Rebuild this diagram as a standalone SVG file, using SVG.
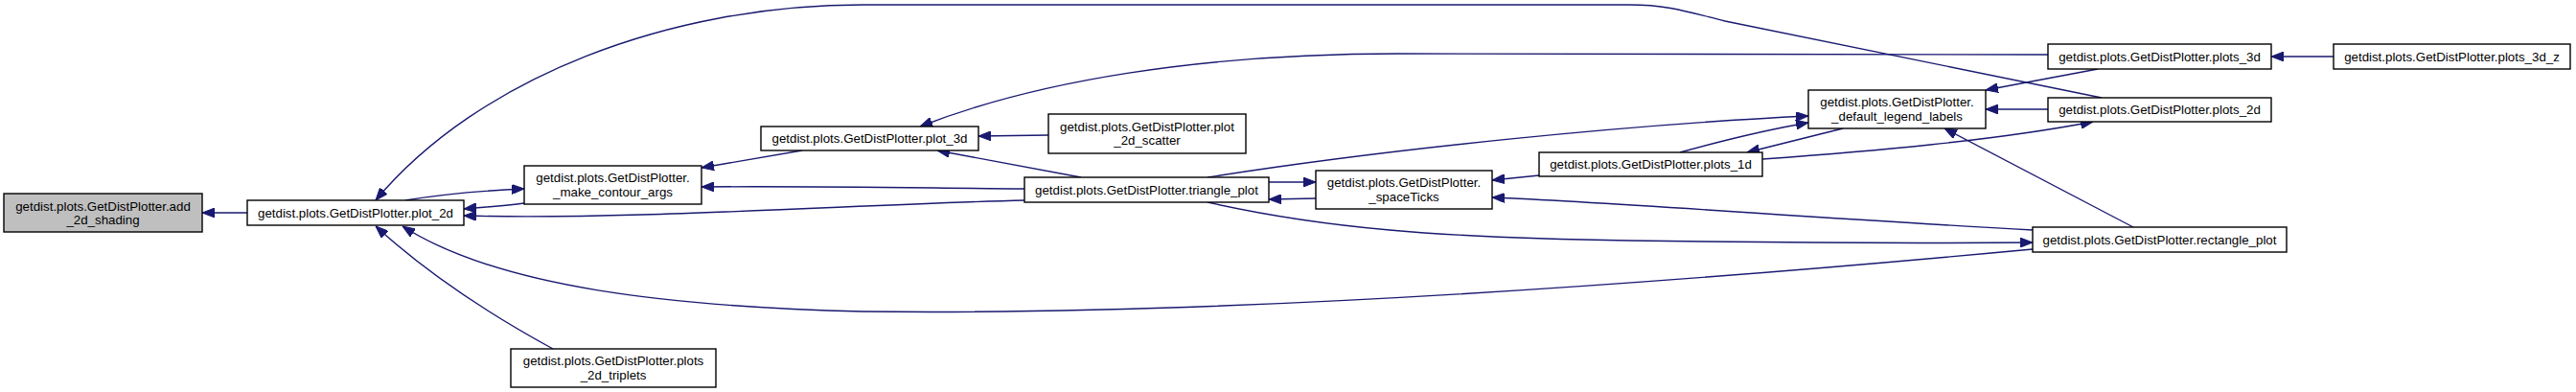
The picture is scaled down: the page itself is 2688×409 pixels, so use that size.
<svg xmlns="http://www.w3.org/2000/svg" width="2688" height="409" viewBox="0 0 2688 409">
<style>
.n rect{fill:#fff;stroke:#000;stroke-width:1.4}
.n.root rect{fill:#bfbfbf}
.n text{font-family:"Liberation Sans",Arial,sans-serif;font-size:13.3px;fill:#000;text-anchor:middle}
.e path{fill:none;stroke:#191970;stroke-width:1.4;marker-end:url(#ah)}
</style>
<defs>
<marker id="ah" viewBox="0 0 13 10" refX="13" refY="5" markerWidth="13" markerHeight="10" markerUnits="userSpaceOnUse" orient="auto">
<path d="M0,0 L13,5 L0,10 z" fill="#191970" stroke="#191970"/>
</marker>
</defs>
<rect width="2688" height="409" fill="#fff"/>
<g id="edges" class="e">
<path d="M258,222 L211,222"/>
<path d="M423,209 C460,203 500,199 547,197"/>
<path d="M547,212 C525,215 505,216 484,218"/>
<path d="M1069,209 C900,213 650,230 484,225"/>
<path d="M1069,197 C950,196 850,194 732,195"/>
<path d="M837,157 L732,175"/>
<path d="M1094,141 L1021,142"/>
<path d="M1128,185 L978,157"/>
<path d="M2137,57 L1460,56 C1250,56 1080,85 960,132"/>
<path d="M2193,102 L1800,22 C1760,12 1740,5 1700,5 L900,5 C700,5 500,80 392,209"/>
<path d="M1324,190 L1373,190"/>
<path d="M1373,207 L1324,208"/>
<path d="M1606,183 L1557,188"/>
<path d="M2121,240 C1900,228 1700,212 1557,206"/>
<path d="M1260,211 C1380,238 1500,248 1700,251 C1900,254 2000,254 2121,253"/>
<path d="M2121,260 C1800,290 1300,330 900,325 C700,320 520,300 420,236"/>
<path d="M577,364 C500,322 440,280 392,236"/>
<path d="M1260,185 C1450,155 1700,130 1887,121"/>
<path d="M1753,159 C1800,146 1840,136 1887,128"/>
<path d="M1923,134 L1823,159"/>
<path d="M2189,72 L2072,94"/>
<path d="M2137,114 L2072,114"/>
<path d="M2226,237 L2029,134"/>
<path d="M1839,166 C1950,158 2080,147 2184,127"/>
<path d="M2435,59 L2370,59"/>
</g>
<g id="add_2d_shading" class="n root"><rect x="4" y="202" width="207" height="40"/><text x="107.5" y="219.5">getdist.plots.GetDistPlotter.add</text><text x="107.5" y="234">_2d_shading</text></g>
<g id="plot_2d" class="n"><rect x="258" y="209" width="226" height="26"/><text x="371" y="226.7">getdist.plots.GetDistPlotter.plot_2d</text></g>
<g id="make_contour_args" class="n"><rect x="547" y="173" width="185" height="40"/><text x="639.5" y="190">getdist.plots.GetDistPlotter.</text><text x="639.5" y="205">_make_contour_args</text></g>
<g id="plot_3d" class="n"><rect x="794" y="132" width="227" height="25"/><text x="907.5" y="149">getdist.plots.GetDistPlotter.plot_3d</text></g>
<g id="plot_2d_scatter" class="n"><rect x="1094" y="119" width="206" height="41"/><text x="1197" y="136.5">getdist.plots.GetDistPlotter.plot</text><text x="1197" y="151">_2d_scatter</text></g>
<g id="triangle_plot" class="n"><rect x="1069" y="185" width="255" height="26"/><text x="1196.5" y="202.7">getdist.plots.GetDistPlotter.triangle_plot</text></g>
<g id="spaceTicks" class="n"><rect x="1373" y="178" width="184" height="40"/><text x="1465" y="195">getdist.plots.GetDistPlotter.</text><text x="1465" y="210">_spaceTicks</text></g>
<g id="plots_1d" class="n"><rect x="1606" y="159" width="233" height="25"/><text x="1722.5" y="176">getdist.plots.GetDistPlotter.plots_1d</text></g>
<g id="default_legend_labels" class="n"><rect x="1887" y="94" width="185" height="40"/><text x="1979.5" y="111">getdist.plots.GetDistPlotter.</text><text x="1979.5" y="126">_default_legend_labels</text></g>
<g id="plots_3d" class="n"><rect x="2137" y="46" width="233" height="26"/><text x="2253.5" y="63.7">getdist.plots.GetDistPlotter.plots_3d</text></g>
<g id="plots_3d_z" class="n"><rect x="2435" y="46" width="247" height="26"/><text x="2558.5" y="63.7">getdist.plots.GetDistPlotter.plots_3d_z</text></g>
<g id="plots_2d" class="n"><rect x="2137" y="102" width="233" height="25"/><text x="2253.5" y="119">getdist.plots.GetDistPlotter.plots_2d</text></g>
<g id="rectangle_plot" class="n"><rect x="2121" y="237" width="265" height="26"/><text x="2253.5" y="254.7">getdist.plots.GetDistPlotter.rectangle_plot</text></g>
<g id="plots_2d_triplets" class="n"><rect x="533" y="364" width="214" height="40"/><text x="640" y="381">getdist.plots.GetDistPlotter.plots</text><text x="640" y="396">_2d_triplets</text></g>
</svg>
